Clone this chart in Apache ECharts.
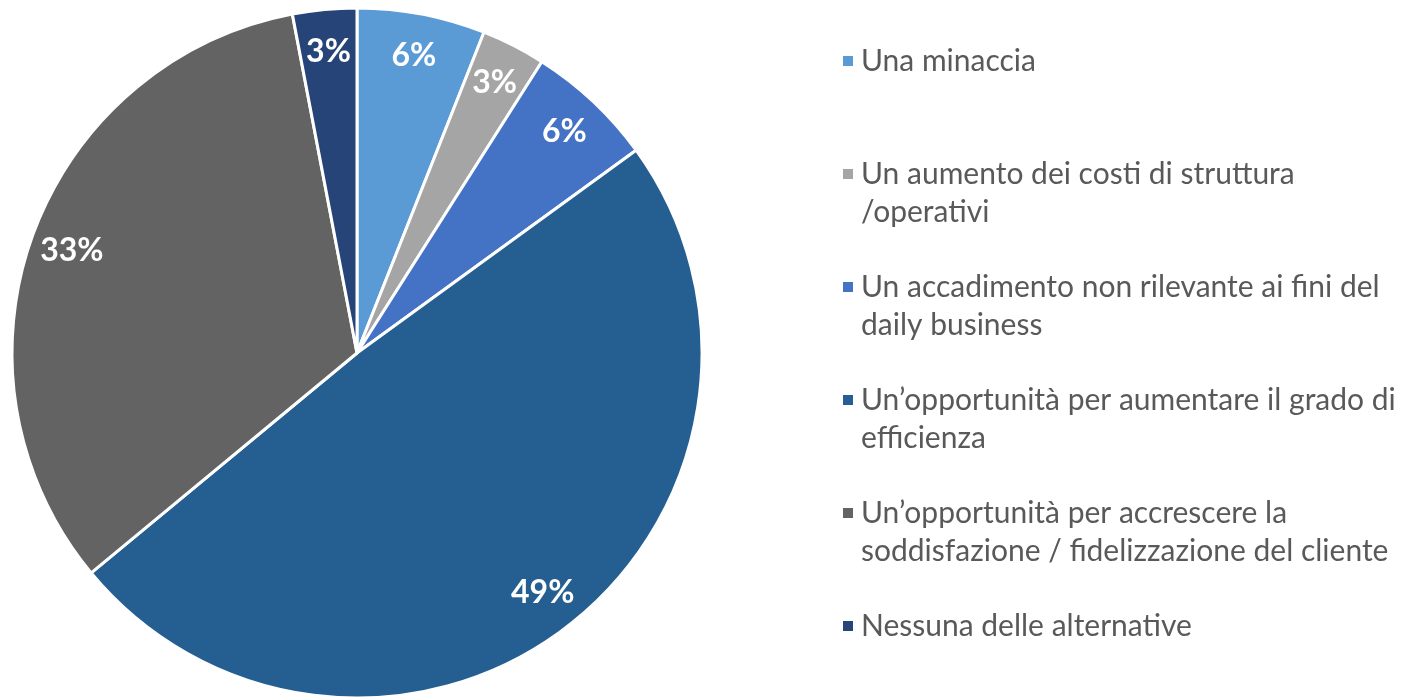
<!DOCTYPE html>
<html>
<head>
<meta charset="utf-8">
<script src="https://cdn.jsdelivr.net/npm/echarts@6/dist/echarts.min.js"></script>
<style>
  html, body { margin: 0; padding: 0; background: #fff; }
  #chart { width: 1402px; height: 697px; }
</style>
</head>
<body>
<div id="chart"></div>
<script>
// categories (legend text, "\n" where the original wraps)
const categories = [
  "Una minaccia",
  "Un aumento dei costi di struttura\n/operativi",
  "Un accadimento non rilevante ai fini del\ndaily business",
  "Un\u2019opportunit\u00e0 per aumentare il grado di\nefficienza",
  "Un\u2019opportunit\u00e0 per accrescere la\nsoddisfazione / fidelizzazione del cliente",
  "Nessuna delle alternative"
];
// percentages
const values = [6, 3, 6, 49, 33, 3];
const colors = ["#5B9BD5", "#A5A5A5", "#4472C4", "#255E91", "#636363", "#264478"];

const chart = echarts.init(document.getElementById("chart"));

const pieData = categories.map((name, i) => ({
  name: name,
  value: values[i],
  itemStyle: { color: colors[i] },
}));

const option = {
  animation: false,
  legend: {
    orient: "vertical",
    left: 836,
    top: -1,
    icon: "rect",
    itemWidth: 12,
    itemHeight: 12,
    itemGap: -1,
    data: categories,
    selectedMode: false,
    formatter: (name) => {
      // pad every entry to 3 lines so the marker sits on the first line
      const lines = [" "].concat(name.split("\n"));
      while (lines.length < 3) lines.push(" ");
      return lines.join("\n");
    },
    textStyle: {
      fontFamily: "Lato",
      fontSize: 30,
      lineHeight: 38,
      color: "#595959",
      padding: [0, 0, 0, 2],
    },
  },
  series: [
    {
      // the visible pie
      type: "pie",
      center: [357, 353],
      radius: 345,
      startAngle: 90,
      clockwise: true,
      label: { show: false },
      labelLine: { show: false },
      itemStyle: { borderColor: "#ffffff", borderWidth: 3 },
      emphasis: { disabled: true },
      data: pieData,
    },
    {
      // transparent ring that only carries the percentage labels near the rim
      type: "pie",
      center: [357, 353],
      radius: [255, 345],
      startAngle: 90,
      clockwise: true,
      silent: true,
      emphasis: { disabled: true },
      itemStyle: { color: "transparent", borderWidth: 0 },
      labelLine: { show: false },
      label: {
        show: true,
        position: "inside",
        formatter: "{c}%",
        color: "#ffffff",
        fontFamily: "Lato",
        fontWeight: "bold",
        fontSize: 32,
      },
      data: categories.map((name, i) => ({ name: name, value: values[i] })),
    },
  ],
};

chart.setOption(option);
</script>
</body>
</html>
